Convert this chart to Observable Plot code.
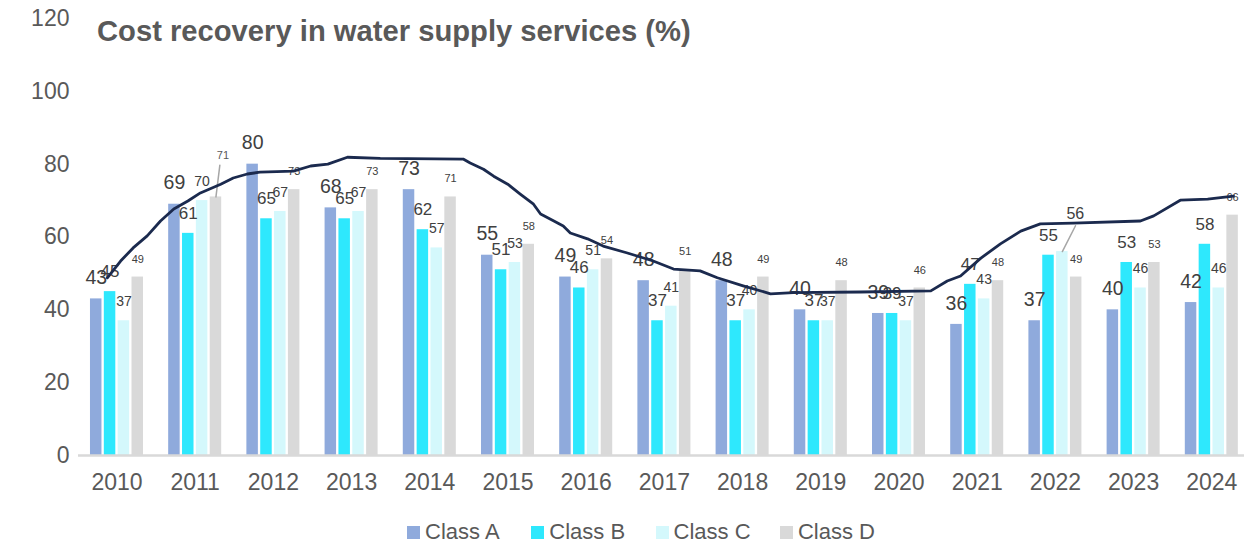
<!DOCTYPE html>
<html>
<head>
<meta charset="utf-8">
<script src="https://cdn.jsdelivr.net/npm/d3@7"></script>
<script src="https://cdn.jsdelivr.net/npm/@observablehq/plot@0.6"></script>
<style>
  body { margin: 0; background: #fff; font-family: "Liberation Sans", Arial, sans-serif; }
  #wrap { position: relative; width: 1244px; height: 545px; overflow: hidden; }
  #wrap svg { position: absolute; left: 0; top: 0; }
  #title { position: absolute; left: 97px; top: 17px; font-size: 29.2px; line-height: 1; font-weight: bold; color: #595959; white-space: nowrap; z-index: 2; }
  #legend { position: absolute; left: 407px; top: 521px; display: flex; font-size: 22px; line-height: 22px; color: #595959; z-index: 2; }
  #legend .item { display: flex; align-items: center; width: 124.3px; }
  #legend .sw { width: 13px; height: 13px; margin-right: 5px; }
</style>
</head>
<body>
<div id="wrap">
  <div id="title">Cost recovery in water supply services (%)</div>
  <div id="legend"></div>
</div>
<script>
// ---- data ----
const years = ["2010","2011","2012","2013","2014","2015","2016","2017","2018","2019","2020","2021","2022","2023","2024"];
const classes = ["Class A", "Class B", "Class C", "Class D"];
const classA = [43, 69, 80, 68, 73, 55, 49, 48, 48, 40, 39, 36, 37, 40, 42];
const classB = [45, 61, 65, 65, 62, 51, 46, 37, 37, 37, 39, 47, 55, 53, 58];
const classC = [37, 70, 67, 67, 57, 53, 51, 41, 40, 37, 37, 43, 56, 46, 46];
const classD = [49, 71, 73, 73, 71, 58, 54, 51, 49, 48, 46, 48, 49, 53, 66];
const classColors = ["#8faadc", "#2ee8fd", "#d4f8fc", "#d9d9d9"];
const yTicks = [0, 20, 40, 60, 80, 100, 120];
// labels drawn with a leader line: [year, class]
const calloutA = ["2011", "Class D"];
const calloutB = ["2022", "Class C"];
// hand-drawn trend line (fractional year, value)
const trendYear  = [2009.87, 2010.04, 2010.20, 2010.38, 2010.55, 2010.72, 2010.90, 2011.06, 2011.32, 2011.48, 2011.66, 2011.82, 2012.25, 2012.47, 2012.69, 2012.94, 2013.36, 2014.42, 2014.51, 2014.68, 2014.81, 2014.99, 2015.15, 2015.32, 2015.41, 2015.58, 2015.70, 2015.79, 2016.01, 2016.21, 2016.52, 2016.85, 2017.11, 2017.45, 2017.67, 2018.00, 2018.35, 2018.64, 2019.50, 2020.40, 2020.61, 2020.78, 2021.04, 2021.29, 2021.55, 2021.80, 2022.22, 2023.08, 2023.25, 2023.59, 2023.94, 2024.27];
const trendValue = [48.8, 53.4, 57.0, 60.3, 64.4, 67.7, 69.9, 72.1, 74.5, 76.2, 77.3, 77.8, 78.1, 79.5, 80.0, 81.9, 81.6, 81.4, 80.3, 78.6, 76.7, 74.5, 71.8, 69.0, 66.3, 64.4, 63.0, 61.1, 59.5, 57.5, 55.6, 53.4, 51.2, 50.7, 48.8, 46.6, 44.4, 44.7, 44.9, 45.2, 47.9, 49.3, 54.2, 58.1, 61.6, 63.6, 63.8, 64.4, 65.8, 70.1, 70.4, 71.2];

const series = [classA, classB, classC, classD];
const rows = years.flatMap((yr, i) => classes.map((c, j) => ({year: yr, cls: c, value: series[j][i]})));
const trend = trendYear.map((x, i) => ({x, y: trendValue[i]}));
const isCall = (d, c) => d.year === c[0] && d.cls === c[1];

const font = '"Liberation Sans", Arial, sans-serif';
const W = 1244, H = 545, mL = 78, mR = 0, mT = 18, mB = 90;

const labelStyle = [
  {fontSize: 19.5, dy: -21},
  {fontSize: 17, dy: -20},
  {fontSize: 14, dy: -19},
  {fontSize: 11, dy: -18}
];
const leader = {draw(context, l) { context.moveTo(0, 0); context.lineTo(0, -l); }};

const main = Plot.plot({
  width: W, height: H,
  marginLeft: mL, marginRight: mR, marginTop: mT, marginBottom: mB,
  style: {fontFamily: font, background: "transparent", overflow: "visible"},
  fx: {domain: years, paddingInner: 0.322, paddingOuter: 0.116, align: 0.66, round: false, label: null},
  x: {domain: classes, paddingInner: 0.17, paddingOuter: 0, round: false, axis: null},
  y: {domain: [0, 120], label: null},
  color: {domain: classes, range: classColors},
  marks: [
    Plot.barY(rows, {fx: "year", x: "cls", y: "value", fill: "cls"}),
    ...classes.map((c, j) => Plot.text(rows.filter(d => d.cls === c && !isCall(d, calloutA) && !isCall(d, calloutB)), {
      fx: "year", x: "cls", y: "value", text: d => String(d.value),
      fontSize: labelStyle[j].fontSize, dy: labelStyle[j].dy,
      lineAnchor: "middle", fill: "#404040"
    })),
    // callout A (small grey label with leader)
    Plot.vector(rows.filter(d => isCall(d, calloutA)), {fx: "year", x: "cls", y: "value", length: 32, rotate: 7, anchor: "start", shape: leader, stroke: "#a6a6a6", strokeWidth: 1.5}),
    Plot.text(rows.filter(d => isCall(d, calloutA)), {fx: "year", x: "cls", y: "value", text: d => String(d.value), fontSize: 11, dx: 7, dy: -41, lineAnchor: "middle", fill: "#595959"}),
    // callout B
    Plot.vector(rows.filter(d => isCall(d, calloutB)), {fx: "year", x: "cls", y: "value", length: 29, rotate: 27, anchor: "start", shape: leader, stroke: "#a6a6a6", strokeWidth: 1.5}),
    Plot.text(rows.filter(d => isCall(d, calloutB)), {fx: "year", x: "cls", y: "value", text: d => String(d.value), fontSize: 16, dx: 13, dy: -38, lineAnchor: "middle", fill: "#404040"}),
    Plot.axisFx({anchor: "bottom", tickSize: 0, tickPadding: 18, fontSize: 23, fill: "#595959", label: null}),
    Plot.axisY({ticks: yTicks, tickSize: 0, tickPadding: 21, fontSize: 23, fill: "#595959", label: null})
  ]
});

const overlay = Plot.plot({
  width: W, height: H,
  marginLeft: mL, marginRight: mR, marginTop: mT, marginBottom: mB,
  style: {fontFamily: font, background: "transparent", overflow: "visible"},
  x: {domain: [2009.5015, 2024.411], axis: null},
  y: {domain: [0, 120], axis: null},
  marks: [
    Plot.ruleY([0], {stroke: "#d9d9d9", strokeWidth: 2.5}),
    Plot.line(trend, {x: "x", y: "y", stroke: "#1b2a4e", strokeWidth: 2.8, strokeLinejoin: "round"})
  ]
});

const wrap = document.getElementById("wrap");
wrap.insertBefore(main, wrap.firstChild);
wrap.insertBefore(overlay, main.nextSibling);

const legend = document.getElementById("legend");
classes.forEach((c, j) => {
  const item = document.createElement("div");
  item.className = "item";
  const sw = document.createElement("span");
  sw.className = "sw";
  sw.style.background = classColors[j];
  const t = document.createElement("span");
  t.textContent = c;
  item.appendChild(sw); item.appendChild(t);
  legend.appendChild(item);
});
</script>
</body>
</html>
